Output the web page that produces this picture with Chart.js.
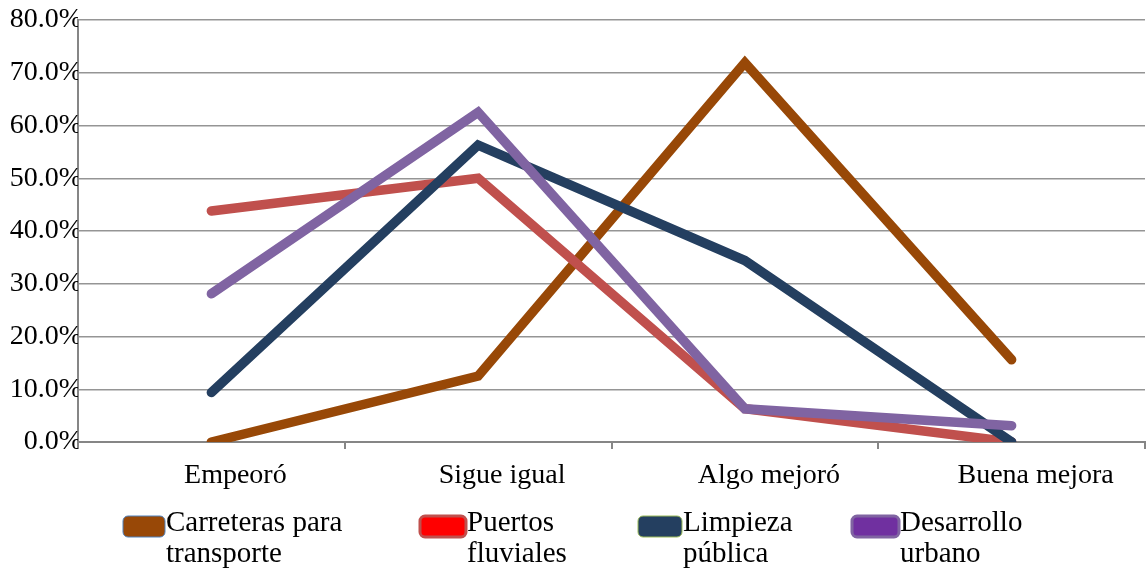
<!DOCTYPE html>
<html>
<head>
<meta charset="utf-8">
<title>Percepción de mejoras</title>
<script src="https://cdn.jsdelivr.net/npm/chart.js@4.4.1/dist/chart.umd.min.js"></script>
<style>
  html, body { margin: 0; padding: 0; background: #ffffff; }
  #wrap { position: relative; width: 1147px; height: 571px; }
</style>
</head>
<body>
<div id="wrap"><canvas id="chart" width="1147" height="571"></canvas></div>
<script>
// Categorías de respuesta
const categories = ['Empeoró', 'Sigue igual', 'Algo mejoró', 'Buena mejora'];

// Porcentajes por servicio
const carreteras = [0.0, 12.5, 71.9, 15.6];
const puertos    = [43.8, 50.0, 6.3, 0.0];
const limpieza   = [9.4, 56.3, 34.4, 0.0];
const desarrollo = [28.1, 62.5, 6.3, 3.1];

// Etiquetas de la leyenda (dos líneas cada una)
const legendLabels = [
  ['Carreteras para', 'transporte'],
  ['Puertos', 'fluviales'],
  ['Limpieza', 'pública'],
  ['Desarrollo', 'urbano']
];

// Marcas del eje vertical
const yTicks = [0, 10, 20, 30, 40, 50, 60, 70, 80];

const FONT = '"Liberation Serif", "Times New Roman", serif';
const FONT_SIZE = 28;
const LEGEND_FONT_SIZE = 29;

const lineColors  = ['#984807', '#C0504D', '#243F60', '#8064A2'];
const swatchFill  = ['#984807', '#FF0000', '#243F60', '#7030A0'];
const swatchEdge  = ['#4F81BD', '#C0504D', '#9BBB59', '#8064A2'];
const swatchEdgeW = [1, 3, 1, 3];

const seriesValues = [carreteras, puertos, limpieza, desarrollo];

// Leyenda dibujada bajo el gráfico
const legendPlugin = {
  id: 'serieLegend',
  afterDraw(chart, args, opts) {
    const ctx = chart.ctx;
    ctx.save();
    ctx.font = LEGEND_FONT_SIZE + 'px ' + FONT;
    ctx.textBaseline = 'middle';
    ctx.textAlign = 'left';
    legendLabels.forEach((lines, i) => {
      const bx = opts.boxX[i];
      const by = opts.boxY;
      const bw = opts.boxW[i];
      const bh = opts.boxH;
      ctx.beginPath();
      ctx.roundRect(bx, by, bw, bh, 5);
      ctx.fillStyle = swatchFill[i];
      ctx.fill();
      ctx.lineWidth = swatchEdgeW[i];
      ctx.strokeStyle = swatchEdge[i];
      ctx.stroke();
      ctx.fillStyle = '#000000';
      lines.forEach((t, k) => {
        ctx.fillText(t, bx + bw + 1, opts.textY + k * opts.lineGap);
      });
    });
    ctx.restore();
  }
};

const chart = new Chart(document.getElementById('chart'), {
  type: 'line',
  data: {
    labels: categories,
    datasets: seriesValues.map((vals, i) => ({
      label: legendLabels[i].join(' '),
      data: vals,
      borderColor: lineColors[i],
      backgroundColor: lineColors[i],
      borderWidth: 9.5,
      borderCapStyle: 'round',
      borderJoinStyle: 'miter',
      pointRadius: 0,
      pointHoverRadius: 0,
      tension: 0,
      fill: false,
      order: 4 - i
    }))
  },
  options: {
    responsive: false,
    animation: false,
    devicePixelRatio: 1,
    layout: { padding: { top: 20, right: 2, left: 0, bottom: 0 } },
    plugins: {
      legend: { display: false },
      tooltip: { enabled: false },
      serieLegend: {
        boxX: [123, 420, 638, 852],
        boxW: [42, 46, 44, 47],
        boxY: 516,
        boxH: 21,
        textY: 523,
        lineGap: 31
      }
    },
    scales: {
      x: {
        offset: true,
        grid: {
          display: true,
          drawOnChartArea: false,
          drawTicks: true,
          tickLength: 7,
          color: '#868686',
          lineWidth: 2,
          offset: true
        },
        border: { display: true, color: '#868686', width: 2 },
        ticks: {
          color: '#000000',
          font: { family: FONT, size: FONT_SIZE },
          padding: 10,
          labelOffset: 24,
          maxRotation: 0,
          autoSkip: false
        },
        afterFit(scale) { scale.height = 129; }
      },
      y: {
        min: 0,
        max: 80,
        afterBuildTicks(scale) {
          scale.ticks = yTicks.map(v => ({ value: v }));
        },
        grid: {
          color: '#959595',
          lineWidth: 1.5,
          drawTicks: false
        },
        border: { display: true, color: '#868686', width: 2 },
        ticks: {
          color: '#000000',
          font: { family: FONT, size: FONT_SIZE },
          padding: -4,
          callback: v => v.toFixed(1) + '%'
        },
        afterFit(scale) { scale.width = 78; }
      }
    }
  },
  plugins: [legendPlugin]
});
</script>
</body>
</html>
